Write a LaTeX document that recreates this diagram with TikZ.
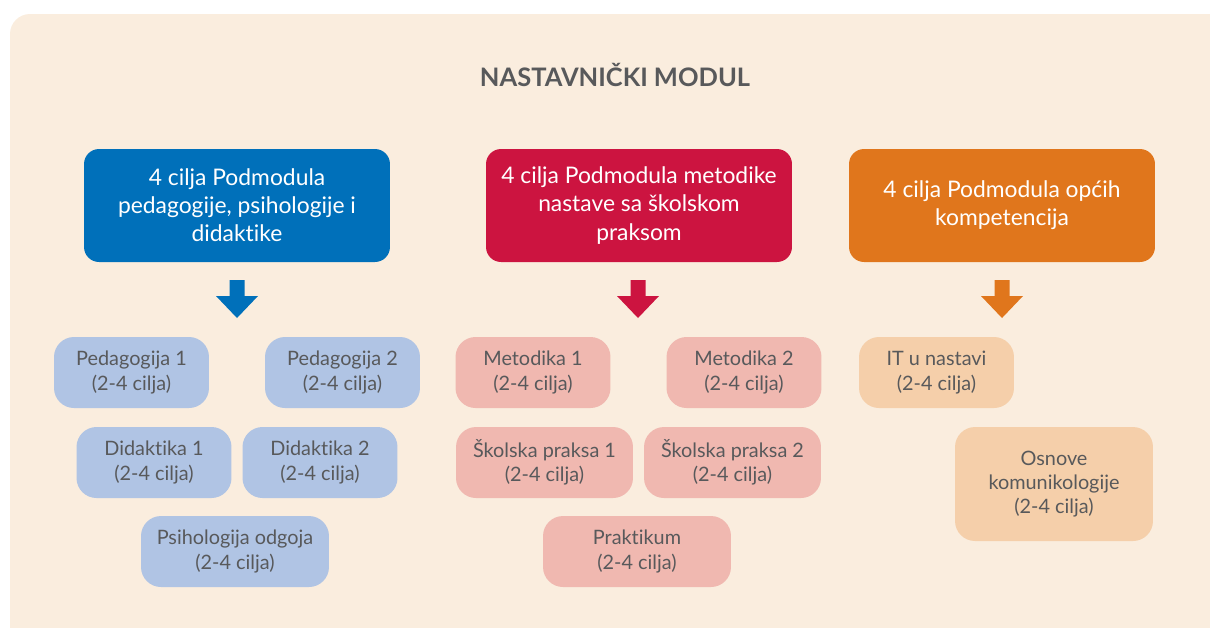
\documentclass[tikz,border=0pt]{standalone}
\usepackage{fontspec}
\setmainfont{Lato}[Ligatures=NoCommon]
\usetikzlibrary{positioning}

\definecolor{bgcol}{RGB}{250,237,222}
\definecolor{txtgray}{RGB}{88,89,91}
\definecolor{pblue}{RGB}{0,112,186}
\definecolor{pred}{RGB}{204,20,64}
\definecolor{porange}{RGB}{224,118,28}
\definecolor{lblue}{RGB}{176,196,228}
\definecolor{lred}{RGB}{240,184,176}
\definecolor{lorange}{RGB}{245,207,170}

\tikzset{
  pics/downarrow/.style={code={
    \fill (-7.5,0) -- (7.5,0) -- (7.5,16) -- (21,16) -- (0,38) -- (-21,16) -- (-7.5,16) -- cycle;
  }}
}

\begin{document}
\begin{tikzpicture}[x=0.02cm, y=-0.02cm,
  every node/.style={align=center},
  head/.style={rectangle, rounded corners=0.3cm, text=white, minimum width=6.12cm, minimum height=2.26cm, font=\fontsize{13}{16}\selectfont},
  sub/.style={rectangle, rounded corners=0.4cm, text=txtgray, minimum width=3.1cm, minimum height=1.42cm, font=\fontsize{11.3}{13.8}\selectfont}]
	\useasboundingbox (0,0) rectangle (1210,627);
	\fill[bgcol, rounded corners=0.4cm] (10,14) rectangle (1240,660);
	
	\node[text=txtgray, font=\fontsize{14.5}{17}\selectfont\bfseries] (title) at (615,75) {NASTAVNIČKI MODUL};
	
	% glavni podmoduli
	\node[head, fill=pblue] (h1) at (237,205.5) {4 cilja Podmodula\\pedagogije, psihologije i\\didaktike};
	\node[head, fill=pred] (h2) at (639,205.5) {4 cilja Podmodula metodike\\nastave sa školskom\\praksom};
	\node[head, fill=porange] (h3) at (1002,205.5) {4 cilja Podmodula općih\\kompetencija};
	
	\pic[color=pblue] at (237,280) {downarrow};
	\pic[color=pred] at (638,280) {downarrow};
	\pic[color=porange] at (1002,280) {downarrow};
	
	% predmeti
	\node[sub, fill=lblue] (ped1) at (131.5,372.5) {Pedagogija 1\\(2-4 cilja)};
	\node[sub, fill=lblue] (ped2) at (342.5,372.5) {Pedagogija 2\\(2-4 cilja)};
	\node[sub, fill=lblue] (did1) at (154,462.5) {Didaktika 1\\(2-4 cilja)};
	\node[sub, fill=lblue] (did2) at (320,462.5) {Didaktika 2\\(2-4 cilja)};
	\node[sub, fill=lblue, minimum width=3.76cm] (psi) at (235,551.5) {Psihologija odgoja\\(2-4 cilja)};
	
	\node[sub, fill=lred] (met1) at (533,372.5) {Metodika 1\\(2-4 cilja)};
	\node[sub, fill=lred] (met2) at (744,372.5) {Metodika 2\\(2-4 cilja)};
	\node[sub, fill=lred, minimum width=3.54cm] (sk1) at (544.5,462.5) {Školska praksa 1\\(2-4 cilja)};
	\node[sub, fill=lred, minimum width=3.54cm] (sk2) at (732.5,462.5) {Školska praksa 2\\(2-4 cilja)};
	\node[sub, fill=lred, minimum width=3.76cm] (prak) at (637,551.5) {Praktikum\\(2-4 cilja)};
	
	\node[sub, fill=lorange] (it) at (936.5,372.5) {IT u nastavi\\(2-4 cilja)};
	\node[sub, fill=lorange, minimum width=3.96cm, minimum height=2.28cm] (osn) at (1054,484) {Osnove\\komunikologije\\(2-4 cilja)};
\end{tikzpicture}
\end{document}
